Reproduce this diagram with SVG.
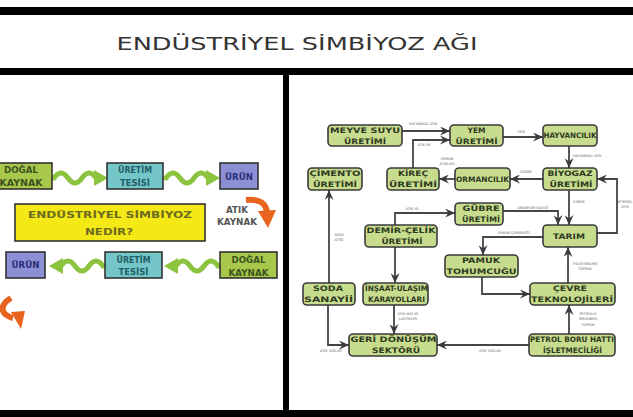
<svg xmlns="http://www.w3.org/2000/svg" xmlns:xlink="http://www.w3.org/1999/xlink" width="633" height="417" viewBox="0 0 633 417">
<defs>
<style>
.bar{fill:#000}
.n{fill:#c8dc8e;stroke:#3a3a3a;stroke-width:1.6}
.nt{font-family:"DejaVu Sans",sans-serif;font-weight:bold;font-size:7.5px;fill:#2f3a22;text-anchor:middle}
.c{fill:none;stroke:#454545;stroke-width:1.8}
.lb{font-family:"DejaVu Sans",sans-serif;font-size:3.4px;fill:#666;text-anchor:middle}
.lbs{font-family:"DejaVu Sans",sans-serif;font-size:3.4px;fill:#666}
.lt{font-family:"DejaVu Sans",sans-serif;font-weight:bold;font-size:8px;text-anchor:middle}
.bx{stroke:#333;stroke-width:1.6}
.or{fill:none;stroke:#e8641e;stroke-width:6}
</style>
<marker id="ah" markerUnits="userSpaceOnUse" markerWidth="11" markerHeight="9" refX="10" refY="4.5" orient="auto">
<path d="M0,0 L10,4.5 L0,9 L3.5,4.5 z" fill="#3a3a3a"/>
</marker>
<g id="wave">
<path d="M0,0 Q7,-10 14,0 T28,0 T42,0" fill="none" stroke="#8cc43f" stroke-width="5" stroke-linecap="round"/>
<polygon points="40,-8 54,0 40,8" fill="#8cc43f"/>
</g>
</defs>
<rect width="633" height="417" fill="#fff"/>
<g id="frame">
<rect class="bar" x="0" y="7" width="633" height="8"/>
<rect class="bar" x="0" y="68" width="633" height="7"/>
<rect class="bar" x="283" y="75" width="6" height="342"/>
<rect class="bar" x="0" y="410" width="633" height="7"/>
</g>
<g id="title">
<text x="297" y="50" font-family="DejaVu Sans, sans-serif" font-size="17" fill="#333" text-anchor="middle" textLength="361" lengthAdjust="spacingAndGlyphs">ENDÜSTRİYEL SİMBİYOZ AĞI</text>
</g>

<!-- left panel -->
<g id="left-connectors">
<use xlink:href="#wave" transform="translate(54,178)"/>
<use xlink:href="#wave" transform="translate(166,178)"/>
<use xlink:href="#wave" transform="translate(218,266) scale(-1,1)"/>
<use xlink:href="#wave" transform="translate(103,266) scale(-1,1)"/>
<path class="or" d="M246,200 Q266,198 267,213"/>
<polygon points="258,211 276,210 268,228" fill="#e8641e"/>
<path class="or" d="M11,298 Q1,304 3,311 Q5,316 13,318"/>
<polygon points="11,312 25,311 21,329" fill="#e8641e"/>
</g>
<g id="l-dogal1">
<rect class="bx" x="-10" y="163" width="62" height="26" fill="#a8c84c"/>
<text class="lt" x="21" y="173" fill="#3b5320" textLength="34" lengthAdjust="spacingAndGlyphs">DOĞAL</text>
<text class="lt" x="21" y="186" fill="#3b5320" textLength="43" lengthAdjust="spacingAndGlyphs">KAYNAK</text>
</g>
<g id="l-uretim1">
<rect class="bx" x="107" y="163" width="56" height="26" fill="#74c6c9"/>
<text class="lt" x="135" y="173" fill="#1f5f66" textLength="34" lengthAdjust="spacingAndGlyphs">ÜRETİM</text>
<text class="lt" x="135" y="186" fill="#1f5f66" textLength="30" lengthAdjust="spacingAndGlyphs">TESİSİ</text>
</g>
<g id="l-urun1">
<rect class="bx" x="220" y="163" width="38" height="26" fill="#8c8fd4"/>
<text class="lt" x="239" y="180" fill="#2b2e7a" textLength="28" lengthAdjust="spacingAndGlyphs">ÜRÜN</text>
</g>
<g id="l-atik">
<text class="lt" x="237" y="213" fill="#555" font-size="7" textLength="22" lengthAdjust="spacingAndGlyphs">ATIK</text>
<text class="lt" x="237" y="225" fill="#555" font-size="7" textLength="40" lengthAdjust="spacingAndGlyphs">KAYNAK</text>
</g>
<g id="l-nedir">
<rect class="bx" x="15" y="204" width="190" height="37" fill="#f4e817"/>
<text class="lt" x="110" y="218" font-size="10" fill="#6e6a1e" textLength="164" lengthAdjust="spacingAndGlyphs">ENDÜSTRİYEL SİMBİYOZ</text>
<text class="lt" x="109" y="235" font-size="10" fill="#6e6a1e" textLength="48" lengthAdjust="spacingAndGlyphs">NEDİR?</text>
</g>
<g id="l-urun2">
<rect class="bx" x="6" y="252" width="39" height="26" fill="#8c8fd4"/>
<text class="lt" x="25.5" y="268" fill="#2b2e7a" textLength="28" lengthAdjust="spacingAndGlyphs">ÜRÜN</text>
</g>
<g id="l-uretim2">
<rect class="bx" x="105" y="252" width="57" height="26" fill="#74c6c9"/>
<text class="lt" x="133.5" y="263" fill="#1f5f66" textLength="34" lengthAdjust="spacingAndGlyphs">ÜRETİM</text>
<text class="lt" x="133.5" y="275" fill="#1f5f66" textLength="30" lengthAdjust="spacingAndGlyphs">TESİSİ</text>
</g>
<g id="l-dogal2">
<rect class="bx" x="220" y="252" width="57" height="26" fill="#a8c84c"/>
<text class="lt" x="248.5" y="263" fill="#3b5320" textLength="34" lengthAdjust="spacingAndGlyphs">DOĞAL</text>
<text class="lt" x="248.5" y="276" fill="#3b5320" textLength="40" lengthAdjust="spacingAndGlyphs">KAYNAK</text>
</g>

<!-- right panel connectors -->
<g id="connectors">
<path class="c" d="M402,131 H450" marker-end="url(#ah)"/>
<path class="c" d="M413,168 V140 H450" marker-end="url(#ah)"/>
<path class="c" d="M455,179 H439" marker-end="url(#ah)"/>
<path class="c" d="M503,137 H543" marker-end="url(#ah)"/>
<path class="c" d="M569,146 V168" marker-end="url(#ah)"/>
<path class="c" d="M543,179 H510" marker-end="url(#ah)"/>
<path class="c" d="M569,190 V225" marker-end="url(#ah)"/>
<path class="c" d="M597,233 H617 V179 H597" marker-end="url(#ah)"/>
<path class="c" d="M395,225 V213 H455" marker-end="url(#ah)"/>
<path class="c" d="M395,247 V283" marker-end="url(#ah)"/>
<path class="c" d="M503,211 H558 V225" marker-end="url(#ah)"/>
<path class="c" d="M543,237 H483 V255" marker-end="url(#ah)"/>
<path class="c" d="M482,277 V294 H530" marker-end="url(#ah)"/>
<path class="c" d="M568,283 V247" marker-end="url(#ah)"/>
<path class="c" d="M569,334 V305" marker-end="url(#ah)"/>
<path class="c" d="M529,345 H437" marker-end="url(#ah)"/>
<path class="c" d="M328,305 V345 H349" marker-end="url(#ah)"/>
<path class="c" d="M394,305 V334" marker-end="url(#ah)"/>
<path class="c" d="M329,283 V190" marker-end="url(#ah)"/>
<text class="lb" x="423" y="125">HAYVANSAL ATIK</text>
<text class="lb" x="424" y="146">ATIK ISI</text>
<text class="lb" x="447" y="160">ORMAN</text>
<text class="lb" x="447" y="165">ATIKLARI</text>
<text class="lb" x="521" y="133">YEM</text>
<text class="lbs" x="573" y="157">HAYVANSAL ATIK</text>
<text class="lb" x="526" y="173">GÜBRE</text>
<text class="lbs" x="573" y="203">GÜBRE</text>
<text class="lb" x="625" y="203" font-size="3">BİTKİSEL</text>
<text class="lb" x="625" y="208" font-size="3">ATIK</text>
<text class="lb" x="412" y="210">ATIK ISI</text>
<text class="lb" x="533" y="209">AMONYUM SÜLFAT</text>
<text class="lb" x="514" y="234">PAMUK ÇEKİRDEĞİ</text>
<text class="lb" x="585" y="265">İYİLEŞTİRİLMİŞ</text>
<text class="lb" x="585" y="270">TOPRAK</text>
<text class="lb" x="588" y="315">PETROLLE</text>
<text class="lb" x="588" y="320">KİRLENMİŞ</text>
<text class="lb" x="588" y="326">TOPRAK</text>
<text class="lb" x="490" y="352">ATIK YAĞLAR</text>
<text class="lb" x="331" y="352">ATIK YAĞLAR</text>
<text class="lb" x="408" y="315">ATIK AKÜ VE</text>
<text class="lb" x="408" y="320">LASTİKLER</text>
<text class="lb" x="339" y="236">SODA</text>
<text class="lb" x="339" y="241">ATIĞI</text>
</g>

<!-- right panel nodes -->
<g id="n-meyve">
<rect class="n" x="328" y="125" width="74" height="21" rx="4"/>
<text class="nt" x="365" y="133" textLength="70" lengthAdjust="spacingAndGlyphs">MEYVE SUYU</text>
<text class="nt" x="365" y="144" textLength="42" lengthAdjust="spacingAndGlyphs">ÜRETİMİ</text>
</g>
<g id="n-yem">
<rect class="n" x="450" y="125" width="53" height="21" rx="4"/>
<text class="nt" x="476.5" y="133" textLength="18" lengthAdjust="spacingAndGlyphs">YEM</text>
<text class="nt" x="476.5" y="144" textLength="42" lengthAdjust="spacingAndGlyphs">ÜRETİMİ</text>
</g>
<g id="n-hayvancilik">
<rect class="n" x="543" y="125" width="54" height="21" rx="4"/>
<text class="nt" x="570" y="138" textLength="53" lengthAdjust="spacingAndGlyphs">HAYVANCILIK</text>
</g>
<g id="n-cimento">
<rect class="n" x="308" y="168" width="54" height="22" rx="4"/>
<text class="nt" x="335" y="176" textLength="51" lengthAdjust="spacingAndGlyphs">ÇİMENTO</text>
<text class="nt" x="335" y="187" textLength="44" lengthAdjust="spacingAndGlyphs">ÜRETİMİ</text>
</g>
<g id="n-kirec">
<rect class="n" x="387" y="168" width="52" height="22" rx="4"/>
<text class="nt" x="413" y="176" textLength="30" lengthAdjust="spacingAndGlyphs">KİREÇ</text>
<text class="nt" x="413" y="187" textLength="48" lengthAdjust="spacingAndGlyphs">ÜRETİMİ</text>
</g>
<g id="n-ormancilik">
<rect class="n" x="455" y="168" width="55" height="22" rx="4"/>
<text class="nt" x="482.5" y="182" textLength="53" lengthAdjust="spacingAndGlyphs">ORMANCILIK</text>
</g>
<g id="n-biyogaz">
<rect class="n" x="543" y="168" width="54" height="22" rx="4"/>
<text class="nt" x="570" y="176" textLength="45" lengthAdjust="spacingAndGlyphs">BİYOGAZ</text>
<text class="nt" x="571" y="187" textLength="43" lengthAdjust="spacingAndGlyphs">ÜRETİMİ</text>
</g>
<g id="n-gubre">
<rect class="n" x="455" y="203" width="48" height="22" rx="4"/>
<text class="nt" x="481" y="211" textLength="37" lengthAdjust="spacingAndGlyphs">GÜBRE</text>
<text class="nt" x="481" y="222" textLength="38" lengthAdjust="spacingAndGlyphs">ÜRETİMİ</text>
</g>
<g id="n-demircelik">
<rect class="n" x="365" y="225" width="72" height="22" rx="4"/>
<text class="nt" x="401" y="233" textLength="69" lengthAdjust="spacingAndGlyphs">DEMİR-ÇELİK</text>
<text class="nt" x="402" y="244" textLength="41" lengthAdjust="spacingAndGlyphs">ÜRETİMİ</text>
</g>
<g id="n-tarim">
<rect class="n" x="543" y="225" width="54" height="22" rx="4"/>
<text class="nt" x="569" y="239" textLength="32" lengthAdjust="spacingAndGlyphs">TARIM</text>
</g>
<g id="n-pamuk">
<rect class="n" x="445" y="255" width="73" height="22" rx="4"/>
<text class="nt" x="481" y="263" textLength="38" lengthAdjust="spacingAndGlyphs">PAMUK</text>
<text class="nt" x="481.5" y="274" textLength="70" lengthAdjust="spacingAndGlyphs">TOHUMCUĞU</text>
</g>
<g id="n-cevre">
<rect class="n" x="530" y="283" width="85" height="22" rx="4"/>
<text class="nt" x="570" y="291" textLength="34" lengthAdjust="spacingAndGlyphs">ÇEVRE</text>
<text class="nt" x="572" y="302" textLength="82" lengthAdjust="spacingAndGlyphs">TEKNOLOJİLERİ</text>
</g>
<g id="n-soda">
<rect class="n" x="303" y="283" width="52" height="22" rx="4"/>
<text class="nt" x="328" y="291" textLength="30" lengthAdjust="spacingAndGlyphs">SODA</text>
<text class="nt" x="328.5" y="302" textLength="49" lengthAdjust="spacingAndGlyphs">SANAYİİ</text>
</g>
<g id="n-insaat">
<rect class="n" x="363" y="283" width="65" height="22" rx="4"/>
<text class="nt" x="396.5" y="291" textLength="63" lengthAdjust="spacingAndGlyphs">İNŞAAT-ULAŞIM</text>
<text class="nt" x="396.5" y="302" textLength="57" lengthAdjust="spacingAndGlyphs">KARAYOLLARI</text>
</g>
<g id="n-geri">
<rect class="n" x="349" y="334" width="88" height="22" rx="4"/>
<text class="nt" x="393.5" y="342" textLength="86" lengthAdjust="spacingAndGlyphs">GERİ DÖNÜŞÜM</text>
<text class="nt" x="396" y="353" textLength="48" lengthAdjust="spacingAndGlyphs">SEKTÖRÜ</text>
</g>
<g id="n-petrol">
<rect class="n" x="529" y="334" width="86" height="22" rx="4"/>
<text class="nt" x="572" y="342" textLength="84" lengthAdjust="spacingAndGlyphs">PETROL BORU HATTI</text>
<text class="nt" x="572.5" y="353" textLength="59" lengthAdjust="spacingAndGlyphs">İŞLETMECİLİĞİ</text>
</g>
</svg>
